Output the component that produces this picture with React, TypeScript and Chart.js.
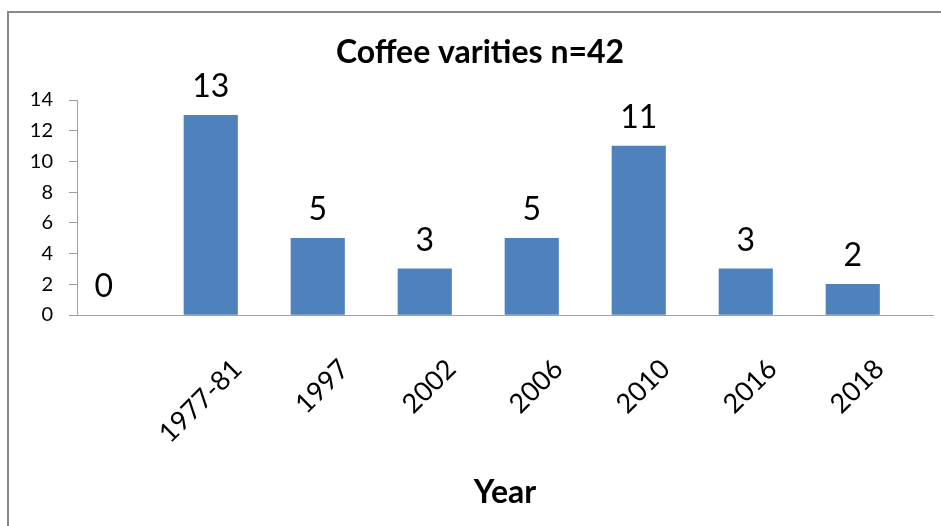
import React, { useEffect, useRef } from "react";
import { Chart, registerables } from "chart.js";

Chart.register(...registerables);

const categories = ["", "1977-81", "1997", "2002", "2006", "2010", "2016", "2018"];
const varieties = [0, 13, 5, 3, 5, 11, 3, 2];
const spacer = [null, null, null, null, null, null, null, null];
const yTicks = { min: 0, max: 14, step: 2 };

const FONT = "Lato, 'Open Sans', sans-serif";

const framePlugin = {
  id: "frame",
  beforeDraw(chart: any) {
    const ctx = chart.ctx;
    ctx.save();
    ctx.fillStyle = "#ffffff";
    ctx.fillRect(0, 0, chart.width, chart.height);
    ctx.strokeStyle = "#898989";
    ctx.lineWidth = 2;
    ctx.strokeRect(8, 12, chart.width + 40, chart.height + 40);
    ctx.restore();
  },
};

const valueLabels = {
  id: "valueLabels",
  afterDatasetsDraw(chart: any) {
    const ctx = chart.ctx;
    const meta = chart.getDatasetMeta(0);
    const data = chart.data.datasets[0].data;
    ctx.save();
    ctx.font = `32px ${FONT}`;
    ctx.fillStyle = "#000000";
    ctx.textAlign = "center";
    ctx.textBaseline = "alphabetic";
    meta.data.forEach((bar: any, i: number) => {
      ctx.fillText(String(data[i]), bar.x, bar.y - 18);
    });
    ctx.restore();
  },
};

export default function App() {
  const ref = useRef<HTMLCanvasElement | null>(null);
  useEffect(() => {
    if (!ref.current) return;
    const chart = new Chart(ref.current, {
      type: "bar",
      data: {
        labels: categories,
        datasets: [
          {
            data: varieties,
            backgroundColor: (c: any) => (c.raw === 0 ? "rgba(0,0,0,0)" : "#4F81BD"),
            borderWidth: 0,
            barPercentage: 1,
            categoryPercentage: 1,
          },
          {
            data: spacer as any,
            backgroundColor: "rgba(0,0,0,0)",
            barPercentage: 1,
            categoryPercentage: 1,
          },
        ],
      },
      options: {
        responsive: false,
        animation: false,
        devicePixelRatio: 1,
        layout: { padding: { left: 27, right: 8, top: 0, bottom: 0 } },
        plugins: {
          legend: { display: false },
          tooltip: { enabled: false },
          title: {
            display: true,
            text: "Coffee varities n=42",
            color: "#000000",
            font: { family: FONT, size: 32, weight: "bold", lineHeight: 1.2 },
            padding: { top: 33, bottom: 28.6 },
          },
        },
        scales: {
          x: {
            offset: true,
            grid: { display: false, drawTicks: false },
            border: { display: true, color: "#A0A0A0", width: 1 },
            ticks: {
              autoSkip: false,
              maxRotation: 45,
              minRotation: 45,
              padding: 38,
              color: "#000000",
              font: { family: FONT, size: 27 },
            },
            title: {
              display: true,
              text: "Year",
              color: "#000000",
              font: { family: FONT, size: 32, weight: "bold" },
              padding: { top: 0, bottom: 14 },
            },
            afterFit(scale: any) {
              scale.height = 211;
            },
          },
          y: {
            min: yTicks.min,
            max: yTicks.max,
            grid: {
              display: true,
              drawOnChartArea: false,
              drawTicks: true,
              tickLength: 8,
              color: "#A0A0A0",
            },
            border: { display: true, color: "#A0A0A0", width: 1 },
            ticks: {
              stepSize: yTicks.step,
              padding: 16,
              color: "#000000",
              font: { family: FONT, size: 20 },
            },
            afterFit(scale: any) {
              scale.width = 50;
            },
          },
        },
      },
      plugins: [framePlugin, valueLabels],
    });
    return () => chart.destroy();
  }, []);
  return (
    <div style={{ position: "fixed", left: 0, top: 0, width: 941, height: 526 }}>
      <canvas ref={ref} width={941} height={526} />
    </div>
  );
}
